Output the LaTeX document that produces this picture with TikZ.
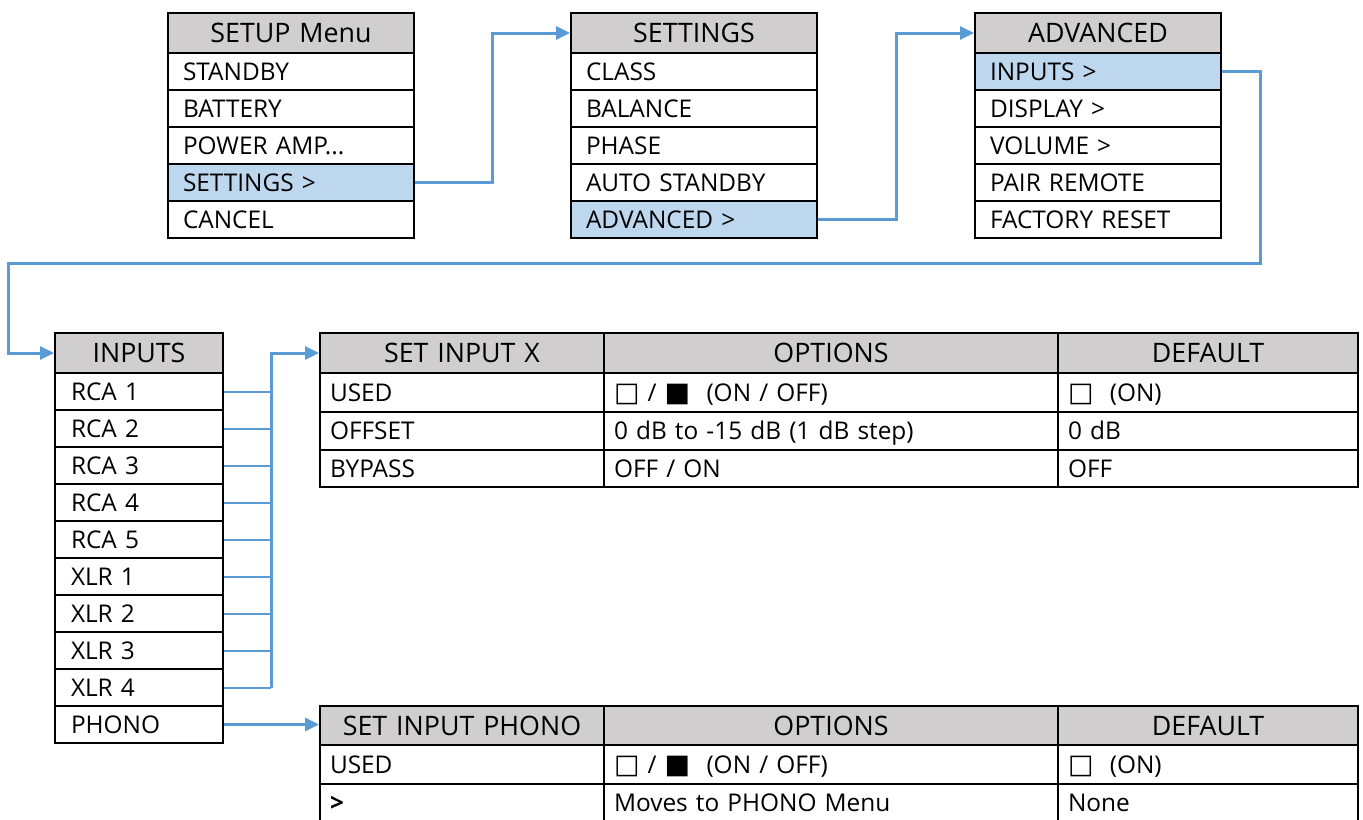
\documentclass[tikz,border=0pt]{standalone}
\usepackage{fontspec}
\setmainfont{Open Sans}
\newfontfamily\symfont{DejaVu Sans}
\usetikzlibrary{arrows.meta}
\definecolor{MenuHead}{RGB}{208,206,206}
\definecolor{MenuSel}{RGB}{189,215,238}
\definecolor{MenuLink}{RGB}{91,155,213}
\newlength\px
\setlength\px{0.5pt}
\newcommand\rowfont{\fontsize{12.2}{15}\selectfont}
\newcommand\headfont{\fontsize{13.4}{16}\selectfont}
\newcommand\boxon{{\symfont\fontsize{13.5}{14}\selectfont □}}
\newcommand\boxoff{{\symfont\fontsize{13.5}{14}\selectfont ■}}
\newcommand\tdots{...}

\begin{document}
\begin{tikzpicture}[x=1\px,y=-1\px,
 cell/.style n args={3}{rectangle,draw=black,line width=2\px,minimum width=#1\px,minimum height=#2\px,text width=#3\px,inner sep=0pt,anchor=north west,font=\rowfont,align=left,text height=11.7pt,text depth=3pt},
 head/.style n args={3}{cell={#1}{#2}{#3},fill=MenuHead,font=\headfont,align=center,text height=12.5pt},
 menuhead/.style={head={246}{40}{240}},
 menurow/.style={cell={246}{37}{216}},
 inrow/.style={cell={168}{37}{136}},
 link/.style={draw=MenuLink,line width=1.5pt,-{Triangle[length=7pt,width=6.5pt]}},
 tap/.style={draw=MenuLink,line width=1pt}]
\useasboundingbox (0,0) rectangle (1363,819);
% menus
\node[menuhead] (setup0) at (167,12) {SETUP Menu};
\foreach \i/\t/\f in {1/STANDBY/white,2/BATTERY/white,3/POWER AMP\tdots/white,4/SETTINGS >/MenuSel,5/CANCEL/white}
   \node[menurow,fill=\f] (setup\i) at (167,{15+37*\i}) {\t};
\node[menuhead] (settings0) at (570,12) {SETTINGS};
\foreach \i/\t/\f in {1/CLASS/white,2/BALANCE/white,3/PHASE/white,4/AUTO STANDBY/white,5/ADVANCED >/MenuSel}
   \node[menurow,fill=\f] (settings\i) at (570,{15+37*\i}) {\t};
\node[menuhead] (advanced0) at (974,12) {ADVANCED};
\foreach \i/\t/\f in {1/INPUTS >/MenuSel,2/DISPLAY >/white,3/VOLUME >/white,4/PAIR REMOTE/white,5/FACTORY RESET/white}
   \node[menurow,fill=\f] (advanced\i) at (974,{15+37*\i}) {\t};
% inputs
\node[head={168}{40}{160}] (inputs0) at (54,332) {INPUTS};
\foreach \t [count=\i] in {RCA 1,RCA 2,RCA 3,RCA 4,RCA 5,XLR 1,XLR 2,XLR 3,XLR 4,PHONO}
   \node[inrow] (inputs\i) at (54,{335+37*\i}) {\t};
% tables
\node[head={284}{40}{276}] (tab1-h1) at (319,332) {SET INPUT X};
\node[head={454}{40}{446}] (tab1-h2) at (603,332) {OPTIONS};
\node[head={300}{40}{292}] (tab1-h3) at (1057,332) {DEFAULT};
\foreach \y/\h/\a/\b/\c [count=\n] in {372/39/USED/{\boxon~/~\boxoff\ \ (ON / OFF)}/{\boxon\ \ (ON)},
   411/38/OFFSET/0 dB to -15 dB (1 dB step)/0 dB, 449/37/BYPASS/{OFF / ON}/OFF} {
   \node[cell={284}{\h}{264}] (tab1-\n-1) at (319,\y) {\a};
   \node[cell={454}{\h}{434}] (tab1-\n-2) at (603,\y) {\b};
   \node[cell={300}{\h}{280}] (tab1-\n-3) at (1057,\y) {\c};
}
\node[head={284}{39}{276}] (tab2-h1) at (319,705) {SET INPUT PHONO};
\node[head={454}{39}{446}] (tab2-h2) at (603,705) {OPTIONS};
\node[head={300}{39}{292}] (tab2-h3) at (1057,705) {DEFAULT};
\foreach \y/\h/\a/\b/\c [count=\n] in {744/39/USED/{\boxon~/~\boxoff\ \ (ON / OFF)}/{\boxon\ \ (ON)},
   783/38/\textbf{>}/Moves to PHONO Menu/None} {
   \node[cell={284}{\h}{264}] (tab2-\n-1) at (319,\y) {\a};
   \node[cell={454}{\h}{434}] (tab2-\n-2) at (603,\y) {\b};
   \node[cell={300}{\h}{280}] (tab2-\n-3) at (1057,\y) {\c};
}
% connectors
\draw[link] (setup4.east) -- ++(77,0) |- (settings0.west);
\draw[link] (settings5.east) -- ++(78,0) |- (advanced0.west);
\coordinate (wrap) at (8,263);
\draw[link] (advanced1.east) -- ++(38,0) |- (wrap) |- (inputs0.west);
\coordinate (bus) at ([xshift=47\px]inputs0.east);
\foreach \i in {1,...,9}
   \draw[tap] (inputs\i.east) -- (inputs\i.east -| bus);
\draw[link] (bus |- inputs9.east) -- (bus) -- (tab1-h1.west);
\draw[link] (inputs10.east) -- (inputs10.east -| tab2-h1.west);
\end{tikzpicture}
\end{document}
